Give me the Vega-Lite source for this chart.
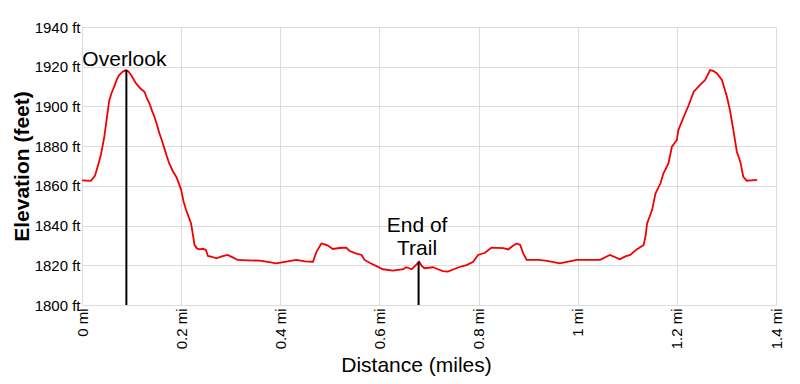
{
  "$schema": "https://vega.github.io/schema/vega-lite/v6.json",
  "width": 694,
  "height": 278,
  "autosize": "none",
  "padding": {"left": 82, "top": 27, "right": 24, "bottom": 79},
  "background": "white",
  "config": {
    "view": {"stroke": null},
    "font": "Liberation Sans",
    "axis": {
      "labelFontSize": 15,
      "labelColor": "#000",
      "labelOverlap": false,
      "labelFlush": false,
      "ticks": false,
      "domain": false,
      "grid": true,
      "gridColor": "#dcdcdc",
      "gridWidth": 1,
      "titleFontSize": 21,
      "titleColor": "#000"
    },
    "axisX": {
      "labelAngle": -90,
      "labelPadding": 3,
      "titleFontWeight": "normal",
      "titleX": 334,
      "titleY": 66,
      "titleBaseline": "alphabetic",
      "titleAlign": "center"
    },
    "axisY": {
      "labelPadding": 2,
      "titleFontWeight": "bold",
      "titleAngle": -90,
      "titleX": -50,
      "titleY": 139,
      "titleBaseline": "bottom",
      "titleAlign": "center"
    }
  },
  "datasets": {
    "profile": [
      {"mi": 0, "ft": 1862.8}, {"mi": 0.018, "ft": 1862.5}, {"mi": 0.026, "ft": 1865}, {"mi": 0.032, "ft": 1870},
      {"mi": 0.038, "ft": 1875.5}, {"mi": 0.045, "ft": 1884.7}, {"mi": 0.05, "ft": 1894}, {"mi": 0.055, "ft": 1903},
      {"mi": 0.06, "ft": 1907}, {"mi": 0.065, "ft": 1910}, {"mi": 0.07, "ft": 1913.5}, {"mi": 0.075, "ft": 1915.8},
      {"mi": 0.082, "ft": 1917.5}, {"mi": 0.089, "ft": 1918.3}, {"mi": 0.094, "ft": 1917.5}, {"mi": 0.099, "ft": 1915.8},
      {"mi": 0.109, "ft": 1911.6}, {"mi": 0.118, "ft": 1909}, {"mi": 0.126, "ft": 1907.4}, {"mi": 0.131, "ft": 1904},
      {"mi": 0.136, "ft": 1901.6}, {"mi": 0.141, "ft": 1898}, {"mi": 0.146, "ft": 1894.8}, {"mi": 0.151, "ft": 1891},
      {"mi": 0.156, "ft": 1886.5}, {"mi": 0.161, "ft": 1883}, {"mi": 0.166, "ft": 1879}, {"mi": 0.171, "ft": 1875},
      {"mi": 0.176, "ft": 1871.3}, {"mi": 0.183, "ft": 1867.5}, {"mi": 0.19, "ft": 1864.6}, {"mi": 0.195, "ft": 1861.5},
      {"mi": 0.2, "ft": 1858}, {"mi": 0.205, "ft": 1852}, {"mi": 0.21, "ft": 1847.8}, {"mi": 0.215, "ft": 1844.5},
      {"mi": 0.22, "ft": 1841.1}, {"mi": 0.224, "ft": 1835}, {"mi": 0.227, "ft": 1830.2}, {"mi": 0.232, "ft": 1828.5},
      {"mi": 0.237, "ft": 1828}, {"mi": 0.244, "ft": 1828.3}, {"mi": 0.25, "ft": 1827.7}, {"mi": 0.254, "ft": 1824.7},
      {"mi": 0.262, "ft": 1824.3}, {"mi": 0.271, "ft": 1823.5}, {"mi": 0.282, "ft": 1824.5}, {"mi": 0.294, "ft": 1825.2},
      {"mi": 0.304, "ft": 1824}, {"mi": 0.314, "ft": 1822.7}, {"mi": 0.336, "ft": 1822.5}, {"mi": 0.358, "ft": 1822.3},
      {"mi": 0.375, "ft": 1821.7}, {"mi": 0.392, "ft": 1821}, {"mi": 0.412, "ft": 1821.8}, {"mi": 0.432, "ft": 1822.7},
      {"mi": 0.45, "ft": 1822}, {"mi": 0.466, "ft": 1821.8}, {"mi": 0.473, "ft": 1826.8}, {"mi": 0.483, "ft": 1831},
      {"mi": 0.49, "ft": 1830.5}, {"mi": 0.496, "ft": 1829.9}, {"mi": 0.506, "ft": 1828.2}, {"mi": 0.52, "ft": 1828.7},
      {"mi": 0.533, "ft": 1828.9}, {"mi": 0.54, "ft": 1827.2}, {"mi": 0.552, "ft": 1826}, {"mi": 0.564, "ft": 1825.2},
      {"mi": 0.57, "ft": 1822.7}, {"mi": 0.582, "ft": 1821}, {"mi": 0.594, "ft": 1819.6}, {"mi": 0.607, "ft": 1818},
      {"mi": 0.627, "ft": 1817.3}, {"mi": 0.648, "ft": 1818}, {"mi": 0.654, "ft": 1819}, {"mi": 0.665, "ft": 1818},
      {"mi": 0.673, "ft": 1820}, {"mi": 0.68, "ft": 1821.8}, {"mi": 0.686, "ft": 1819.5}, {"mi": 0.691, "ft": 1818.5},
      {"mi": 0.708, "ft": 1819}, {"mi": 0.718, "ft": 1818}, {"mi": 0.728, "ft": 1817.1}, {"mi": 0.738, "ft": 1816.8},
      {"mi": 0.755, "ft": 1818.5}, {"mi": 0.766, "ft": 1819.5}, {"mi": 0.776, "ft": 1820.1}, {"mi": 0.789, "ft": 1821.8},
      {"mi": 0.799, "ft": 1825.2}, {"mi": 0.813, "ft": 1826.3}, {"mi": 0.826, "ft": 1828.9}, {"mi": 0.85, "ft": 1828.6},
      {"mi": 0.86, "ft": 1828}, {"mi": 0.87, "ft": 1830}, {"mi": 0.877, "ft": 1831}, {"mi": 0.884, "ft": 1830.2},
      {"mi": 0.89, "ft": 1826}, {"mi": 0.897, "ft": 1822.7}, {"mi": 0.921, "ft": 1822.7}, {"mi": 0.938, "ft": 1822.2},
      {"mi": 0.964, "ft": 1821}, {"mi": 0.998, "ft": 1822.7}, {"mi": 1.045, "ft": 1822.7}, {"mi": 1.065, "ft": 1825.2},
      {"mi": 1.085, "ft": 1823}, {"mi": 1.096, "ft": 1824.5}, {"mi": 1.106, "ft": 1825.2}, {"mi": 1.119, "ft": 1828},
      {"mi": 1.133, "ft": 1830.2}, {"mi": 1.137, "ft": 1835}, {"mi": 1.14, "ft": 1841.1}, {"mi": 1.15, "ft": 1847.8},
      {"mi": 1.157, "ft": 1856.2}, {"mi": 1.167, "ft": 1861.3}, {"mi": 1.173, "ft": 1866.3}, {"mi": 1.183, "ft": 1871.3},
      {"mi": 1.19, "ft": 1879.7}, {"mi": 1.2, "ft": 1883.1}, {"mi": 1.203, "ft": 1888.1}, {"mi": 1.214, "ft": 1894.8},
      {"mi": 1.224, "ft": 1900.7}, {"mi": 1.234, "ft": 1907.4}, {"mi": 1.247, "ft": 1910.8}, {"mi": 1.257, "ft": 1913.3},
      {"mi": 1.267, "ft": 1918.3}, {"mi": 1.274, "ft": 1917.8}, {"mi": 1.281, "ft": 1916.6}, {"mi": 1.291, "ft": 1913.3},
      {"mi": 1.296, "ft": 1909}, {"mi": 1.301, "ft": 1904.9}, {"mi": 1.307, "ft": 1898.2}, {"mi": 1.314, "ft": 1888.1},
      {"mi": 1.321, "ft": 1877.2}, {"mi": 1.328, "ft": 1872.2}, {"mi": 1.334, "ft": 1864.6}, {"mi": 1.341, "ft": 1862.6},
      {"mi": 1.35, "ft": 1862.8}, {"mi": 1.362, "ft": 1863}
    ],
    "marks": [
      {"mi": 0.0895, "top": 1918.3, "bottom": 1800, "tmi": 0.0855, "tft": 1920.3, "label": "Overlook"},
      {"mi": 0.679, "top": 1821.8, "bottom": 1800, "tmi": 0.676, "tft": 1836.6, "label": "End of\nTrail"}
    ]
  },
  "layer": [
    {
      "data": {"name": "profile"},
      "mark": {"type": "line", "color": "#f20000", "strokeWidth": 1.8, "interpolate": "linear"},
      "encoding": {
        "x": {
          "field": "mi", "type": "quantitative",
          "scale": {"domain": [0, 1.4], "nice": false, "zero": false},
          "axis": {"values": [0, 0.2, 0.4, 0.6, 0.8, 1, 1.2, 1.4], "format": "~g", "labelExpr": "datum.label + ' mi'", "title": "Distance (miles)"}
        },
        "y": {
          "field": "ft", "type": "quantitative",
          "scale": {"domain": [1800, 1940], "nice": false, "zero": false},
          "axis": {"values": [1800, 1820, 1840, 1860, 1880, 1900, 1920, 1940], "format": "d", "labelExpr": "datum.label + ' ft'", "title": "Elevation (feet)"}
        }
      }
    },
    {
      "data": {"name": "marks"},
      "mark": {"type": "rule", "color": "#000", "strokeWidth": 2},
      "encoding": {
        "x": {"field": "mi", "type": "quantitative",
          "axis": {"values": [0, 0.2, 0.4, 0.6, 0.8, 1, 1.2, 1.4], "format": "~g", "labelExpr": "datum.label + ' mi'", "title": "Distance (miles)"}},
        "y": {"field": "top", "type": "quantitative",
          "axis": {"values": [1800, 1820, 1840, 1860, 1880, 1900, 1920, 1940], "format": "d", "labelExpr": "datum.label + ' ft'", "title": "Elevation (feet)"}},
        "y2": {"field": "bottom"}
      }
    },
    {
      "data": {"name": "marks"},
      "mark": {"type": "text", "fontSize": 21, "color": "#000", "align": "center", "baseline": "alphabetic", "lineBreak": "\n", "lineHeight": 23},
      "encoding": {
        "x": {"field": "tmi", "type": "quantitative",
          "axis": {"values": [0, 0.2, 0.4, 0.6, 0.8, 1, 1.2, 1.4], "format": "~g", "labelExpr": "datum.label + ' mi'", "title": "Distance (miles)"}},
        "y": {"field": "tft", "type": "quantitative",
          "axis": {"values": [1800, 1820, 1840, 1860, 1880, 1900, 1920, 1940], "format": "d", "labelExpr": "datum.label + ' ft'", "title": "Elevation (feet)"}},
        "text": {"field": "label"}
      }
    }
  ]
}
